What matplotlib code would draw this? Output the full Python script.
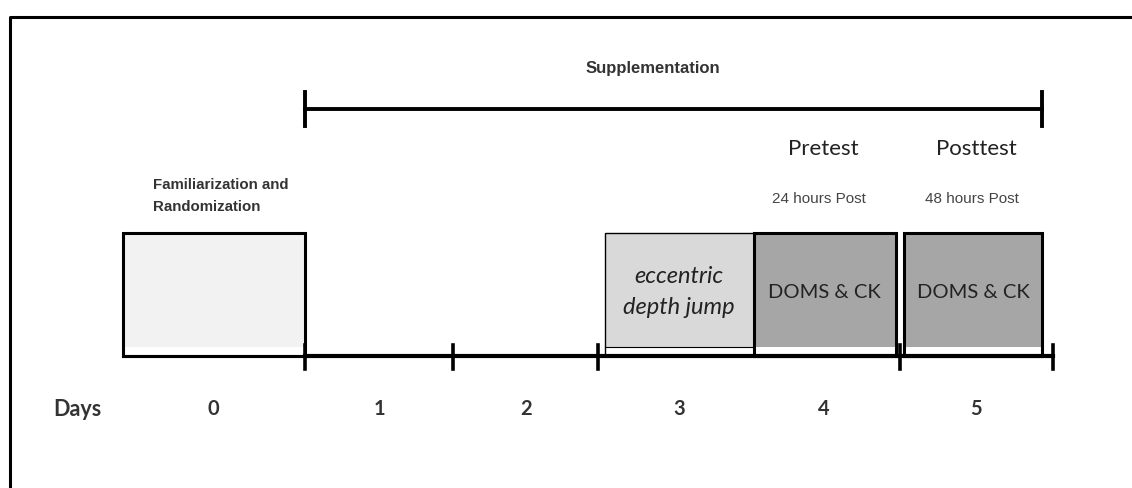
import matplotlib.pyplot as plt
import matplotlib.patches as mpatches

# study timeline (x in days)
days = [0, 1, 2, 3, 4, 5]
day_label_x = [-0.11, 1.0, 1.98, 3.0, 3.97, 4.99]
timeline_ticks = [0.5, 1.49, 2.46, 4.48, 5.5]
timeline_span = [0.5, 5.5]
supplement_span = [0.5, 5.43]

# boxes: (start, end, fill, edge width, label, italic)
box_start = [-0.72, 2.507, 3.5, 4.507]
box_end = [0.5, 3.5, 4.453, 5.43]
box_fill = ["#f2f2f2", "#d9d9d9", "#a6a6a6", "#a6a6a6"]
box_lw = [2.2, 1.0, 2.2, 2.2]
box_text = ["", "eccentric\ndepth jump", "DOMS & CK", "DOMS & CK"]
box_italic = [False, True, False, False]

test_names = ["Pretest", "Posttest"]
test_sub = ["24 hours Post", "48 hours Post"]
test_x = [3.965, 4.99]
test_sub_x = [3.94, 4.96]

px_per_day = 149.5
x0 = 0.5 - 305 / px_per_day
x1 = 0.5 + (1132 - 305) / px_per_day

fig = plt.figure(figsize=(11.32, 4.89), dpi=100)
ax = fig.add_axes([0, 0, 1, 1])
ax.set_xlim(x0, x1)
ax.set_ylim(489, 0)
ax.axis("off")

# outer frame (partly cut off)
fx = 0.5 - 295 / px_per_day
ax.plot([fx, fx, x1 + 1], [600, 18, 18], color="black", lw=2.2, solid_capstyle="butt")

# supplementation bar
ax.plot(supplement_span, [110, 110], color="black", lw=2.8)
for s in supplement_span:
    ax.plot([s, s], [93, 127], color="black", lw=2.8)
ax.text(2.83, 68, "Supplementation", ha="center", va="center",
        fontsize=12, fontweight="bold", family="Liberation Sans", color="#333333")

# boxes
top, fill_bottom, base = 234, 348, 357
for s, e, c, lw, t, it in zip(box_start, box_end, box_fill, box_lw, box_text, box_italic):
    ax.add_patch(mpatches.Rectangle((s, fill_bottom), e - s, top - fill_bottom,
                                    facecolor=c, edgecolor="none", zorder=1))
    ax.add_patch(mpatches.Rectangle((s, base), e - s, top - base, facecolor="none",
                                    edgecolor="black", lw=lw, zorder=2))
    if it:
        ax.plot([s, e], [fill_bottom, fill_bottom], color="black", lw=0.8, zorder=2)
    if t:
        ax.text((s + e) / 2, 292, t, ha="center", va="center",
                fontsize=17 if it else 14.5, family="Lato",
                style="italic" if it else "normal",
                color="#222222", linespacing=1.6, zorder=3)

# timeline
ax.plot([box_start[0], box_end[0]], [base, base], color="black", lw=2.2, zorder=3)
ax.plot(timeline_span, [base, base], color="black", lw=3.0, zorder=3)
for t in timeline_ticks:
    ax.plot([t, t], [346, 370], color="black", lw=2.6, zorder=3)

# labels
ax.text(-0.517, 196, "Familiarization and\nRandomization", ha="left", va="center",
        fontsize=10.8, fontweight="bold", family="Liberation Sans", color="#333333",
        linespacing=1.65)
for x, n in zip(test_x, test_names):
    ax.text(x, 149, n, ha="center", va="center", fontsize=16, family="Lato", color="#222222")
for x, n in zip(test_sub_x, test_sub):
    ax.text(x, 199, n, ha="center", va="center", fontsize=11, family="Liberation Sans",
            color="#444444")

ax.text(-1.025, 409, "Days", ha="center", va="center", fontsize=15.5, fontweight="bold",
        family="Lato", color="#333333")
for x, d in zip(day_label_x, days):
    ax.text(x, 409, str(d), ha="center", va="center", fontsize=14.5, fontweight="bold",
            family="Lato", color="#333333")

fig.savefig("out.png", dpi=100)
